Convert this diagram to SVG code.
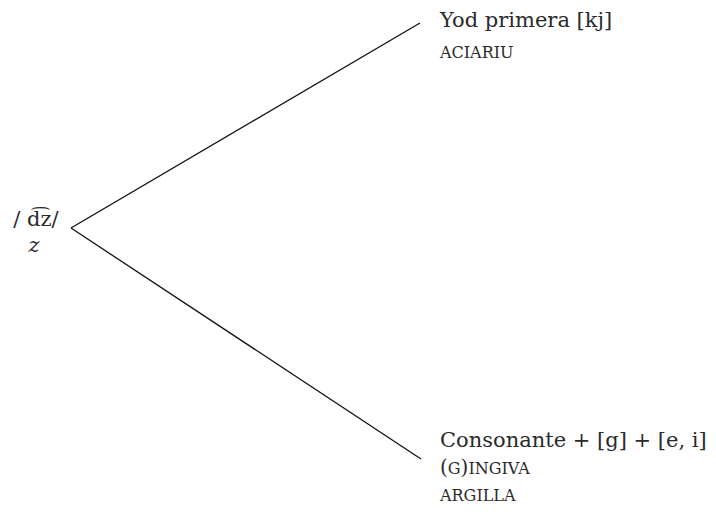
<svg xmlns="http://www.w3.org/2000/svg" width="716" height="517" viewBox="0 0 716 517">
  <style>
    .t { font-family: "DejaVu Serif", "Liberation Serif", serif; fill: #2a2a2a; }
    .big { font-size: 21px; }
    .sc { font-size: 16px; }
    .edge { stroke: #111; stroke-width: 1.3; fill: none; }
  </style>
  <rect width="716" height="517" fill="#fff"/>
  <g id="connectors">
    <line class="edge" x1="71" y1="228" x2="420" y2="23"/>
    <line class="edge" x1="71" y1="228" x2="421" y2="459"/>
  </g>
  <g id="root">
    <text class="t big" x="36" y="226" text-anchor="middle">/ d͡z/</text>
    <text class="t big" x="34" y="252" text-anchor="middle" font-style="italic">z</text>
  </g>
  <g id="yod">
    <text class="t big" x="440" y="27">Yod primera [kj]</text>
    <text class="t sc" x="440" y="58">ACIARIU</text>
  </g>
  <g id="consonante">
    <text class="t big" x="440" y="447">Consonante + [g] + [e, i]</text>
    <text class="t sc" x="440" y="474"><tspan font-size="20">(</tspan>G<tspan font-size="20">)</tspan>INGIVA</text>
    <text class="t sc" x="440" y="501">ARGILLA</text>
  </g>
</svg>
